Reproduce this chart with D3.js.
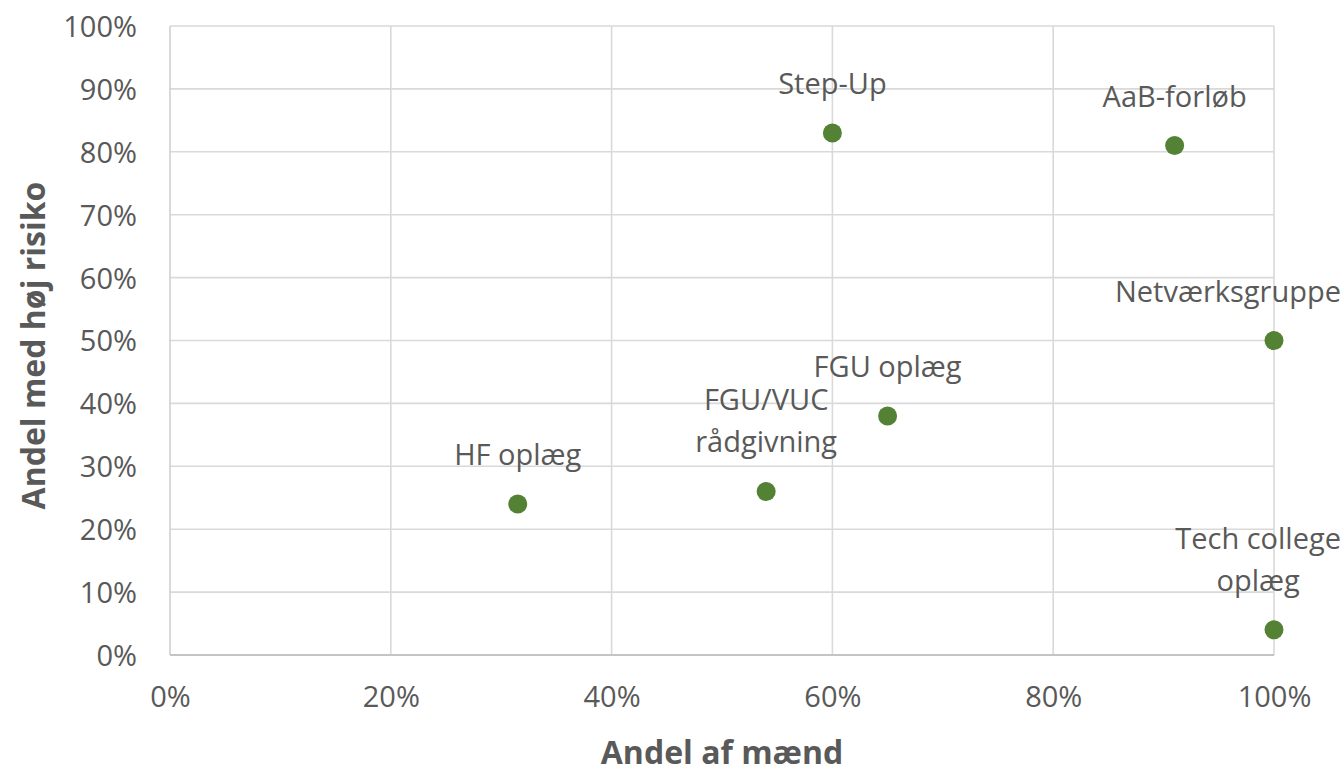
<!DOCTYPE html>
<html>
<head>
<meta charset="utf-8">
<script src="https://cdn.jsdelivr.net/npm/d3@7"></script>
<style>
  html, body { margin: 0; padding: 0; background: #fff; }
  svg { display: block; }
  text { font-family: "Open Sans", "Noto Sans", sans-serif; fill: #595959; }
</style>
</head>
<body>
<svg id="chart" width="1344" height="771"></svg>
<script>
// Program names (multi-line labels split on "\n")
const programs = [
  "HF oplæg",
  "FGU/VUC\nrådgivning",
  "FGU oplæg",
  "Step-Up",
  "AaB-forløb",
  "Netværksgruppe",
  "Tech college\noplæg"
];
// Share of men among participants (x)
const shareMen = [0.315, 0.54, 0.65, 0.60, 0.91, 1.00, 1.00];
// Share with high risk (y)
const shareHighRisk = [0.24, 0.26, 0.38, 0.83, 0.81, 0.50, 0.04];

const xTicks = [0, 0.2, 0.4, 0.6, 0.8, 1.0];
const yTicks = [0, 0.1, 0.2, 0.3, 0.4, 0.5, 0.6, 0.7, 0.8, 0.9, 1.0];

const xTitle = "Andel af mænd";
const yTitle = "Andel med høj risiko";

const svg = d3.select("#chart");
const margin = { left: 170, right: 70, top: 26, bottom: 116 };
const W = 1344, H = 771;

const x = d3.scaleLinear().domain([0, 1]).range([margin.left, W - margin.right]);
const y = d3.scaleLinear().domain([0, 1]).range([H - margin.bottom, margin.top]);

const pct = d3.format(".0%");

// Horizontal gridlines
svg.append("g")
  .selectAll("line")
  .data(yTicks.filter(d => d > 0))
  .join("line")
  .attr("x1", x(0)).attr("x2", x(1))
  .attr("y1", d => y(d)).attr("y2", d => y(d))
  .attr("stroke", "#d9d9d9").attr("stroke-width", 1.6);

// Vertical gridlines
svg.append("g")
  .selectAll("line")
  .data(xTicks.filter(d => d > 0))
  .join("line")
  .attr("x1", d => x(d)).attr("x2", d => x(d))
  .attr("y1", y(0)).attr("y2", y(1))
  .attr("stroke", "#d9d9d9").attr("stroke-width", 1.6);

// Axis lines
svg.append("line")
  .attr("x1", x(0)).attr("x2", x(0)).attr("y1", y(0)).attr("y2", y(1))
  .attr("stroke", "#d0d0d0").attr("stroke-width", 1.6);
svg.append("line")
  .attr("x1", x(0)).attr("x2", x(1)).attr("y1", y(0)).attr("y2", y(0))
  .attr("stroke", "#c4c4c4").attr("stroke-width", 1.8);

// Y tick labels
const yAxis = d3.axisLeft(y).tickValues(yTicks).tickFormat(pct).tickSize(0).tickPadding(33);
const gy = svg.append("g").attr("transform", `translate(${x(0)},0)`).call(yAxis);
gy.select(".domain").remove();
gy.selectAll("text").style("font-size", "29px").style("font-family", "'Open Sans', sans-serif")
  .attr("fill", "#595959").attr("dy", "0.36em");

// X tick labels
const xAxis = d3.axisBottom(x).tickValues(xTicks).tickFormat(pct).tickSize(0).tickPadding(31);
const gx = svg.append("g").attr("transform", `translate(0,${y(0)})`).call(xAxis);
gx.select(".domain").remove();
gx.selectAll("text").style("font-size", "29px").style("font-family", "'Open Sans', sans-serif")
  .attr("fill", "#595959").attr("dy", "0.72em");

// Axis titles
svg.append("text")
  .attr("x", (x(0) + x(1)) / 2).attr("y", 764)
  .attr("text-anchor", "middle")
  .style("font-size", "32px").style("font-weight", "bold")
  .text(xTitle);
svg.append("text")
  .attr("transform", `translate(45,${(y(0) + y(1)) / 2 + 5}) rotate(-90)`)
  .attr("text-anchor", "middle")
  .style("font-size", "32px").style("font-weight", "bold")
  .text(yTitle);

const data = programs.map((name, i) => ({ name, mx: shareMen[i], ry: shareHighRisk[i] }));

// Points
svg.append("g")
  .selectAll("circle")
  .data(data)
  .join("circle")
  .attr("cx", d => x(d.mx))
  .attr("cy", d => y(d.ry))
  .attr("r", 9.5)
  .attr("fill", "#548235");

// Data labels above each point; labels near the right edge are pulled inward
const lineH = 42;
const labels = svg.append("g")
  .selectAll("text")
  .data(data)
  .join("text")
  .attr("text-anchor", "middle")
  .style("font-size", "29px");

labels.each(function (d) {
  const lines = d.name.split("\n");
  const t = d3.select(this);
  const cx = x(d.mx);
  const baseY = y(d.ry) - 39 - (lines.length - 1) * lineH;
  lines.forEach((ln, j) => {
    t.append("tspan").attr("x", cx).attr("y", baseY + j * lineH).text(ln);
  });
  // keep the label inside the frame
  const bb = this.getBBox();
  const overflow = bb.x + bb.width - (W - 3);
  if (overflow > 0) {
    t.selectAll("tspan").attr("x", cx - overflow);
  }
});
</script>
</body>
</html>
